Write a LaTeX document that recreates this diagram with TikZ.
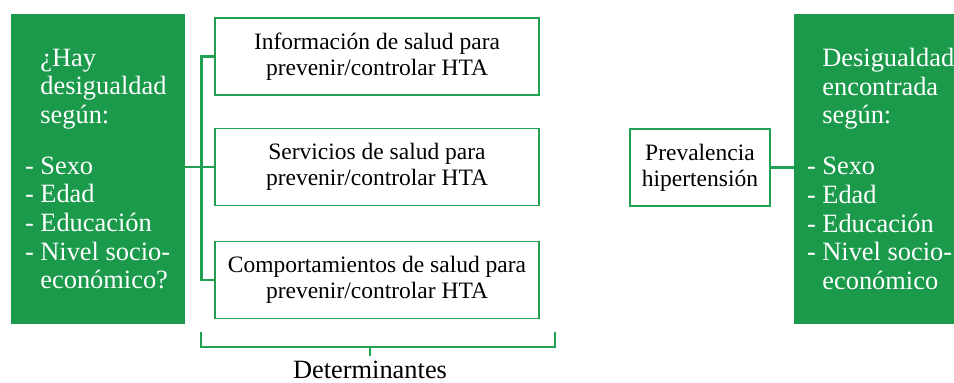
\documentclass[tikz,border=0pt]{standalone}
\usepackage{fontspec}
\setmainfont{LiberationSerif}[Extension=.ttf, UprightFont=*-Regular, BoldFont=*-Bold]
\usetikzlibrary{positioning}
\definecolor{boxgreen}{HTML}{1B9A4B}
\definecolor{linegreen}{HTML}{22A052}
\newcommand{\ind}{\hphantom{- }}

\begin{document}
\begin{tikzpicture}[x=1pt, y=-1pt,
  greenbox/.style={fill=boxgreen, draw=none, minimum width=#1, minimum height=310pt, inner sep=0pt},
  greentext/.style={text=white, align=left, inner sep=0pt, font=\fontsize{26.4}{28.7}\selectfont},
  detbox/.style={draw=linegreen, line width=1.5pt, fill=white, minimum width=324pt, minimum height=77pt, align=center, inner sep=0pt, font=\fontsize{23.5}{26}\selectfont},
  link/.style={draw=linegreen, line width=2.6pt}]
  \useasboundingbox (0,0) rectangle (954,383);

  % Left group box
  \node[greenbox=174pt] (lgroup) at (98,169) {};
  \node[greentext, anchor=west] (ltext) at ([xshift=14pt]lgroup.west)
    {\ind{}¿Hay\\\ind desigualdad\\\ind según:\\[22pt]- Sexo\\- Edad\\- Educación\\- Nivel socio-\\\ind económico?};

  % Determinantes
  \node[detbox] (info) at (377,56.5) {Información de salud para\\prevenir/controlar HTA};
  \node[detbox] (serv) at (377,167) {Servicios de salud para\\prevenir/controlar HTA};
  \node[detbox] (comp) at (377,280) {Comportamientos de salud para\\prevenir/controlar HTA};

  % Prevalence box
  \node[detbox, minimum width=140pt] (prev) at (700,167.5) {Prevalencia\\hipertensión};

  % Right group box
  \node[greenbox=160pt] (rgroup) at (874,169) {};
  \node[greentext, anchor=west] (rtext) at ([xshift=13pt]rgroup.west)
    {\ind Desigualdad\\\ind encontrada\\\ind según:\\[22pt]- Sexo\\- Edad\\- Educación\\- Nivel socio-\\\ind económico};

  % Connectors
  \draw[link] (lgroup.east |- serv.west) -- (serv.west);
  \draw[link] (info.west) -- ++(-13,0) |- (comp.west);
  \draw[link] (prev.east) -- (rgroup.west |- prev.east);

  % Bottom bracket
  \coordinate (brl) at (201,332);
  \coordinate (brr) at (555,332);
  \coordinate (brm) at (370,347);
  \draw[link] (brl) |- (brm) -| (brr);
  \draw[link] (brm) -- ++(0,9);
  \node[anchor=base, font=\fontsize{26.4}{28.7}\selectfont] (det) at (370,378) {Determinantes};
\end{tikzpicture}
\end{document}
